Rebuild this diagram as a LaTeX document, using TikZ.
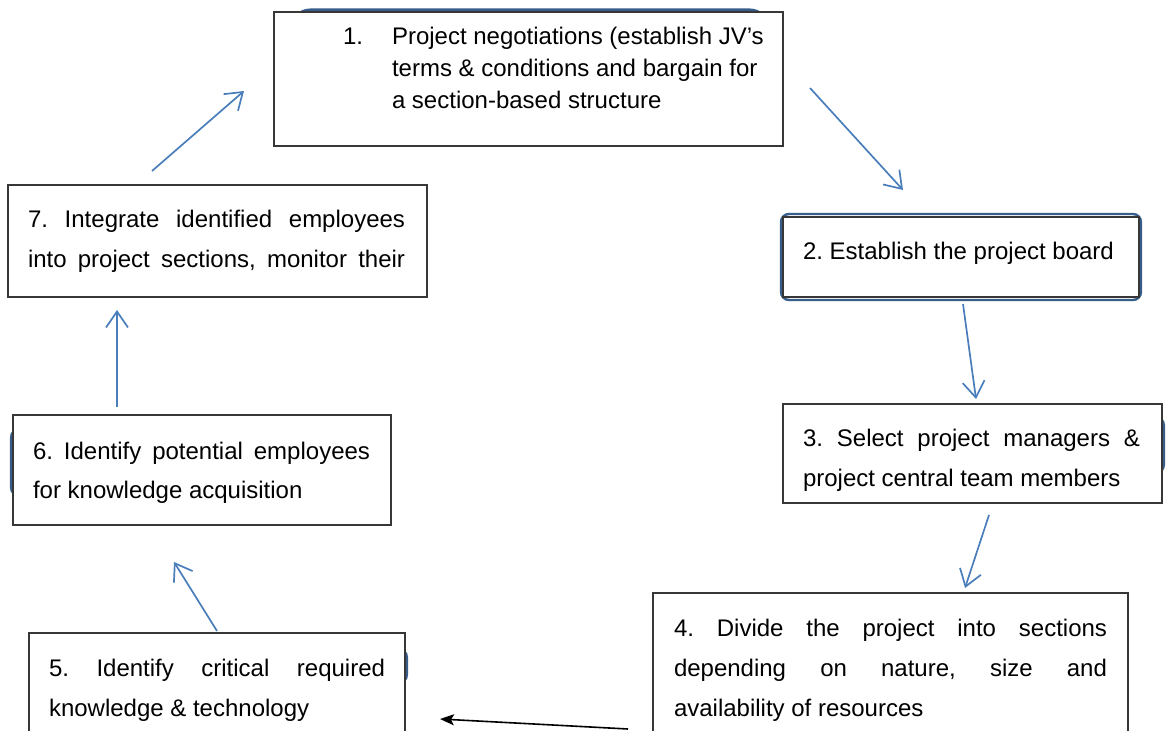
\documentclass[tikz,border=0pt]{standalone}
\usepackage{fontspec}
\setmainfont{Liberation Sans}
\usetikzlibrary{arrows.meta,fit}
\definecolor{arrowblue}{RGB}{74,126,187}
\definecolor{shadeblue}{RGB}{56,93,138}
\definecolor{boxline}{RGB}{55,55,55}
\newcommand\justline[2]{\makebox[#1][s]{#2}}
\frenchspacing
\tikzset{
  stepbox/.style={draw=boxline, line width=0.8pt, fill=white, inner sep=0pt, outer sep=0pt},
  backshape/.style={draw=shadeblue, line width=1.2pt, inner sep=0pt, outer sep=0pt},
  flow/.style={draw=arrowblue, line width=0.85pt, -{Straight Barb[length=8pt,width=11pt]}},
  blackflow/.style={draw=black, line width=0.8pt, -{Stealth[length=7pt,width=5.5pt,inset=1.5pt]}},
  txt/.style={anchor=base west, inner sep=0pt, outer sep=0pt, font=\fontsize{12}{14}\selectfont},
}
\begin{document}
\begin{tikzpicture}[x=0.5pt,y=-0.5pt]
\useasboundingbox (0,0) rectangle (1166,731);
\clip (0,0) rectangle (1166,731);
% blue shapes peeking out behind the boxes
\node[backshape, line width=1.5pt, rounded corners=9pt, fit={(292,10) (768,140)}] (s1) {};
\node[backshape, rounded corners=4pt, fit={(781,214) (1141,300)}] (s2) {};
\node[backshape, rounded corners=5pt, fit={(900,416) (1164,474)}] (s3) {};
\node[backshape, rounded corners=5pt, fit={(11,428) (300,497)}] (s6) {};
\node[backshape, rounded corners=5pt, fit={(100,648) (407,684)}] (s5) {};
% boxes
\node[stepbox, fit={(274,12) (783,146)}] (b1) {};
\node[stepbox, fit={(783,217) (1139,297)}] (b2) {};
\node[stepbox, fit={(783,404) (1162,503)}] (b3) {};
\node[stepbox, fit={(653,593) (1128,760)}] (b4) {};
\node[stepbox, fit={(29,633) (405,760)}] (b5) {};
\node[stepbox, fit={(13,415) (391,525)}] (b6) {};
\node[stepbox, fit={(8,185) (427,297)}] (b7) {};
% texts
\node[txt] (t1n) at (343,45) {1.};
\node[txt] (t1a) at (392,45) {Project negotiations (establish JV’s};
\node[txt] (t1b) at (392,77) {terms \& conditions and bargain for};
\node[txt] (t1c) at (392,109) {a section-based structure};
\node[txt] (t2a) at (803,260) {2. Establish the project board};
\node[txt] (t3a) at (803,447) {\justline{168.5pt}{3. Select project managers \&}};
\node[txt] (t3b) at (803,487) {project central team members};
\node[txt] (t4a) at (674,636) {\justline{216.5pt}{4. Divide the project into sections}};
\node[txt] (t4b) at (674,676) {\justline{216.5pt}{depending on nature, size and}};
\node[txt] (t4c) at (674,716) {availability of resources};
\node[txt] (t5a) at (49,676) {\justline{168pt}{5. Identify critical required}};
\node[txt] (t5b) at (49,716) {knowledge \& technology};
\node[txt] (t6a) at (33,459) {\justline{168.5pt}{6. Identify potential employees}};
\node[txt] (t6b) at (33,499) {for knowledge acquisition};
\node[txt] (t7a) at (28,228) {\justline{188.5pt}{7. Integrate identified employees}};
\node[txt] (t7b) at (28,268) {\justline{188.5pt}{into project sections, monitor their}};
% connector ends
\coordinate (a71s) at (152,171); \coordinate (a71e) at (244,91);
\coordinate (a12s) at (810,88);  \coordinate (a12e) at (903,190);
\coordinate (a23s) at (963,304); \coordinate (a23e) at (976,399);
\coordinate (a34s) at (989,515); \coordinate (a34e) at (965,588);
\coordinate (a45s) at (628,729); \coordinate (a45e) at (440,719);
\coordinate (a56s) at (217,631); \coordinate (a56e) at (174,562);
\coordinate (a67s) at (117,407); \coordinate (a67e) at (117,310);
% connectors
\draw[flow] (a71s) -- (a71e);
\draw[flow] (a12s) -- (a12e);
\draw[flow] (a23s) -- (a23e);
\draw[flow] (a34s) -- (a34e);
\draw[blackflow] (a45s) -- (a45e);
\draw[flow] (a56s) -- (a56e);
\draw[flow] (a67s) -- (a67e);
\end{tikzpicture}
\end{document}
